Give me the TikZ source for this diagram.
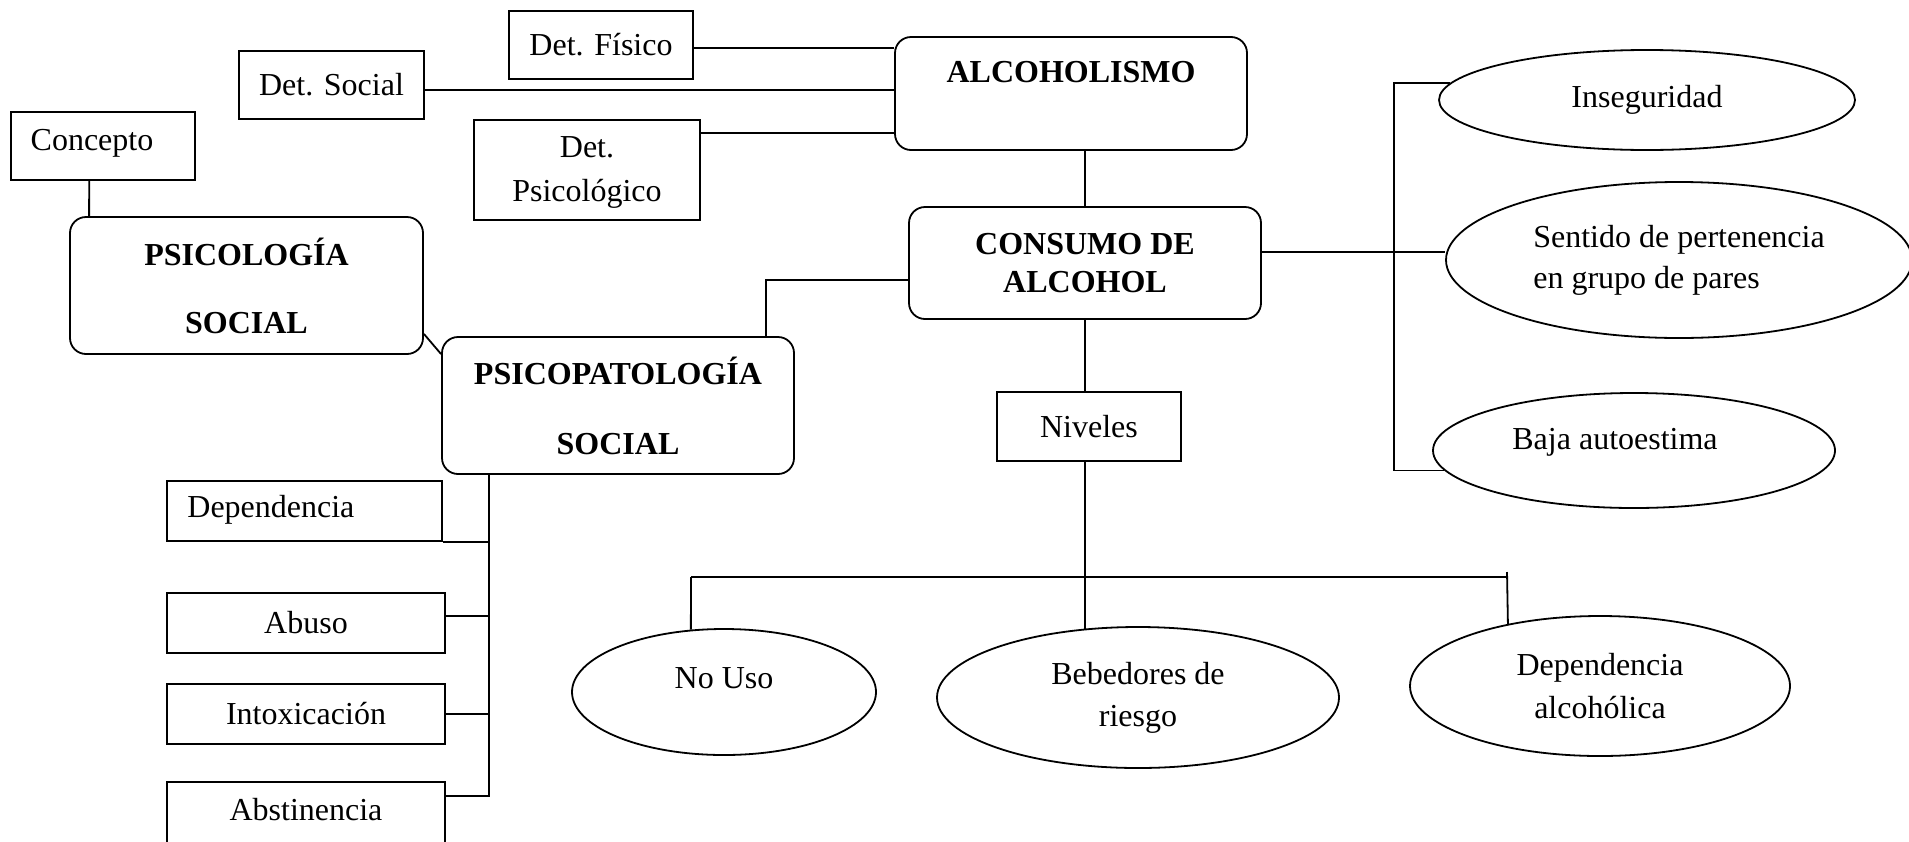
\documentclass[tikz,border=0pt]{standalone}
\usepackage{fontspec}
\setmainfont{Liberation Serif}
\usetikzlibrary{shapes.geometric,calc}
\begin{document}
\begin{tikzpicture}[x=0.5pt,y=-0.5pt,
  every node/.style={font=\fontsize{16}{19.2}\selectfont},
  box/.style={draw,line width=0.8pt,rectangle,inner sep=0pt},
  rbox/.style={draw,line width=0.9pt,rectangle,rounded corners=8pt,inner sep=0pt,font=\fontsize{16}{19.2}\selectfont\bfseries,align=center},
  oval/.style={draw,line width=0.9pt,ellipse,inner sep=0pt},
  txt/.style={inner sep=0pt},
  btxt/.style={inner sep=0pt,font=\fontsize{16}{19.2}\selectfont\bfseries},
  conn/.style={line width=0.9pt}]
\useasboundingbox (0,0) rectangle (1909,841);

% boxes
\node[box,minimum width=92pt,minimum height=34pt] (DF) at (601,45) {Det. Físico};
\node[box,minimum width=92.5pt,minimum height=34pt] (DS) at (331.5,85) {Det. Social};
\node[box,minimum width=92pt,minimum height=34pt] (CO) at (103,146) {};
\node[txt] (COt) at (92,143) {Concepto};
\node[box,minimum width=113pt,minimum height=50pt] (DP) at (587,170) {};
\node[txt,align=center] (DPt) at (587,172) {Det.\\[2.8pt]Psicológico};
\node[rbox,minimum width=176pt,minimum height=56.5pt] (ALC) at (1071,93.5) {};
\node[btxt] (ALCt) at (1071,72) {ALCOHOLISMO};
\node[rbox,minimum width=176.5pt,minimum height=68.5pt] (PS) at (246.5,285.5) {PSICOLOGÍA\\[14.8pt]SOCIAL};
\node[rbox,minimum width=176pt,minimum height=68.5pt] (PP) at (618,405.5) {PSICOPATOLOGÍA\\[15.8pt]SOCIAL};
\node[rbox,minimum width=176pt,minimum height=56pt] (CON) at (1085,263) {CONSUMO DE\\ALCOHOL};
\node[box,minimum width=92pt,minimum height=34.5pt] (NIV) at (1089,426.5) {Niveles};

% ellipses
\node[oval,minimum width=208pt,minimum height=50pt] (INS) at (1647,100) {Inseguridad};
\node[oval,minimum width=233pt,minimum height=78pt,align=left] (SEN) at (1679,260) {Sentido de pertenencia\\[1.3pt]en grupo de pares};
\node[oval,minimum width=201pt,minimum height=57.5pt] (BAJ) at (1634,450.5) {};
\node[txt] (BAJt) at (1615,442) {Baja autoestima};
\node[oval,minimum width=152pt,minimum height=63pt] (NOU) at (724,692) {};
\node[txt] (NOUt) at (724,678) {No Uso};
\node[oval,minimum width=201pt,minimum height=70.5pt,align=center] (BEB) at (1138,697.5) {Bebedores de\\[1.8pt]riesgo};
\node[oval,minimum width=190pt,minimum height=70pt,align=center] (DEA) at (1600,686) {Dependencia\\[2.3pt]alcohólica};

% left list
\node[box,minimum width=137.5pt,minimum height=30pt] (DEP) at (304.5,511) {};
\node[txt,anchor=west] (DEPt) at (187,510) {Dependencia};
\node[box,minimum width=139pt,minimum height=30pt] (ABU) at (306,623) {Abuso};
\node[box,minimum width=139pt,minimum height=30pt] (INT) at (306,714) {Intoxicación};
\node[box,minimum width=139pt,minimum height=59pt] (ABS) at (306,841) {};
\node[txt] (ABSt) at (306,810) {Abstinencia};

% connectors to ALCOHOLISMO
\path (DF.east) ++(0,3) coordinate (dfE);
\draw[conn] (dfE) -- (dfE -| ALC.west);
\path (DS.east) ++(0,5) coordinate (dsE);
\draw[conn] (dsE) -- (dsE -| ALC.west);
\path (DP.north east) ++(0,14) coordinate (dpE);
\draw[conn] (dpE) -- (dpE -| ALC.west);

\draw[conn] (CON.north) -- (CON.north |- ALC.south);
\draw[conn] (CON.south) -- (CON.south |- NIV.north);
\draw[conn] (CON.south |- NIV.south) -- (CON.south |- BEB.128.3);

% levels bar
\coordinate (barL) at (691,577);
\coordinate (barR) at (1507,577);
\draw[conn] (barL) -- (barR);
\draw[conn] (barL) -- (NOU.118.2);
\draw[conn] ($(barR)+(0,-5)$) -- (DEA.146.7);

% right bracket
\coordinate (br) at (1394,0);
\draw[conn] (INS.175) -| (BAJ.186.6 -| br) -- (BAJ.186.6);
\path (CON.east) ++(0,-11) coordinate (cE);
\draw[conn] (cE) -- (cE -| SEN.west);

% left side
\draw[conn] ($(CO.south west)+(79,0)$) -- ($(PS.north west)+(20,0)$);
\draw[conn] ($(PS.south east)+(0,-21)$) -- ($(PP.north west)+(0,18)$);
\draw[conn] ($(PP.north east)+(-29,0)$) |- ($(CON.west)+(0,17)$);

\path (PP.south west) ++(48,0) coordinate (ppS);
\path (ABS.north east) ++(0,15) coordinate (absE);
\draw[conn] (ppS) |- (absE);
\draw[conn] (DEP.south east) -- (DEP.south east -| ppS);
\path (ABU.east) ++(0,-7) coordinate (abuE);
\draw[conn] (abuE) -- (abuE -| ppS);
\draw[conn] (INT.east) -- (INT.east -| ppS);
\end{tikzpicture}
\end{document}
